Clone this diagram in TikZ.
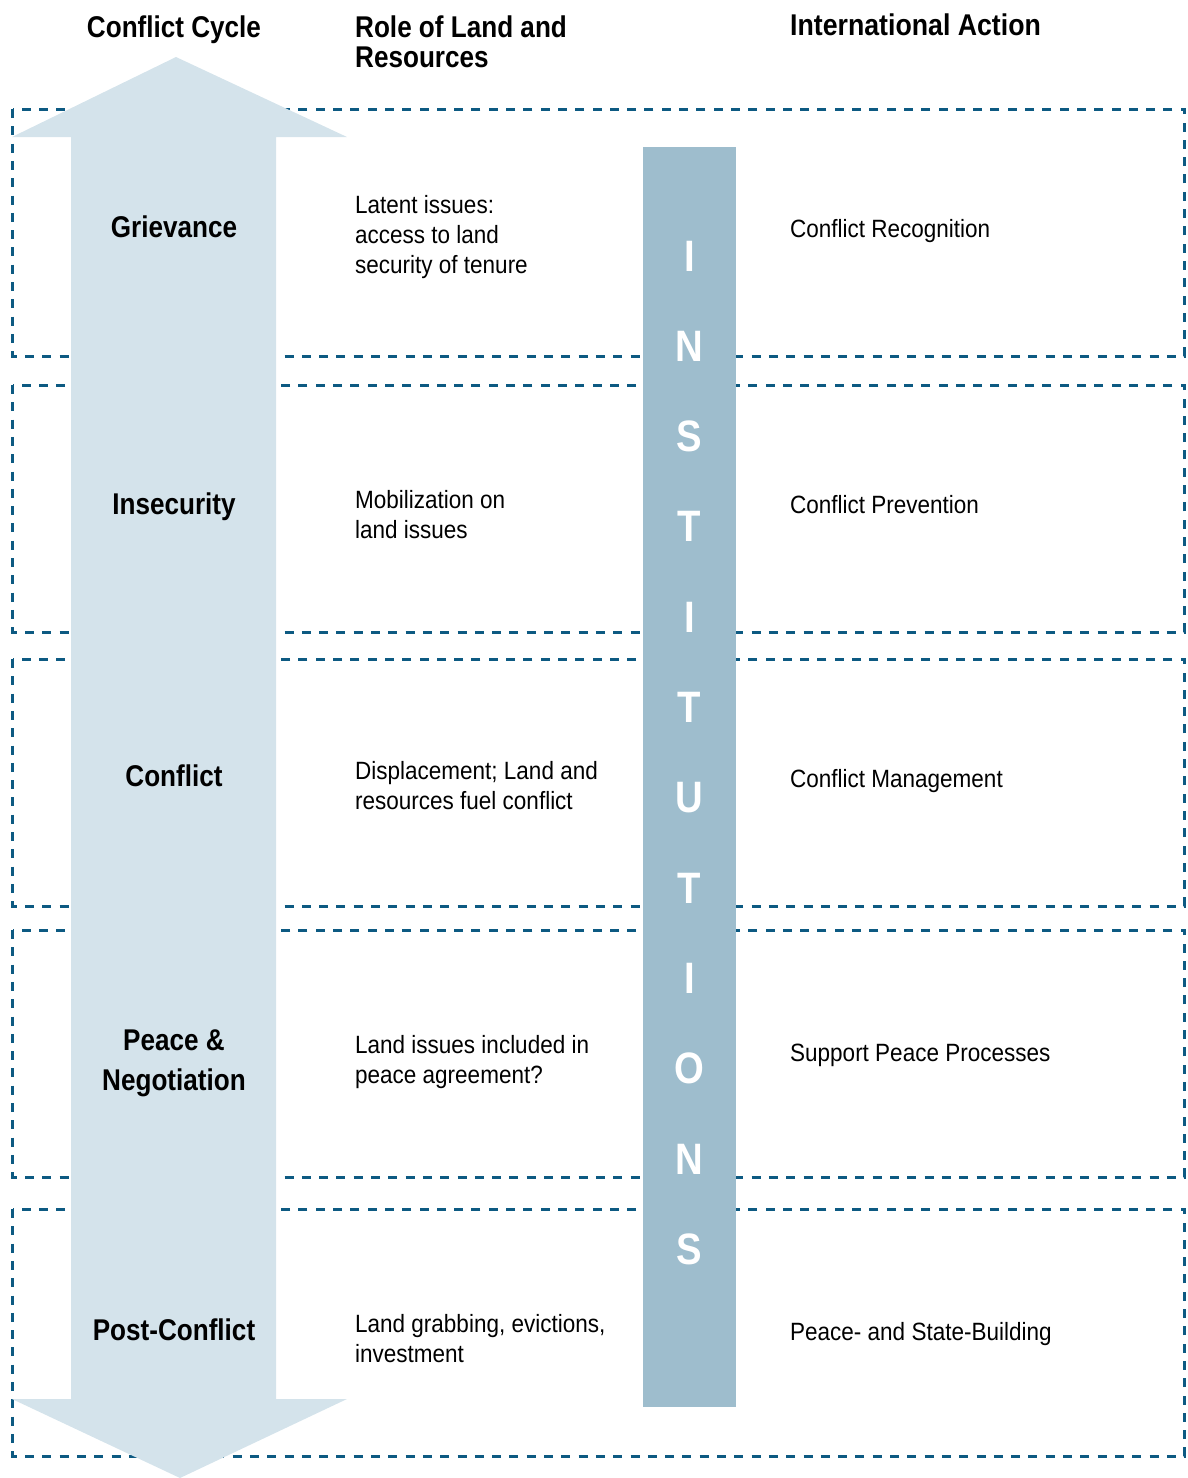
\documentclass[tikz,border=0pt]{standalone}
\usepackage{fontspec}
\setmainfont{Liberation Sans}[FakeStretch=0.87]
\newfontfamily\bodyfont{Liberation Sans}[FakeStretch=0.9]
\definecolor{dashblue}{HTML}{0D5A82}
\definecolor{arrowfill}{HTML}{D4E3EB}
\definecolor{barfill}{HTML}{9EBDCD}
\tikzset{
  rowbox/.style={draw=dashblue, line width=3pt, dash pattern=on 9pt off 8.3pt},
  hd/.style={font=\fontsize{30}{30}\selectfont\bfseries, inner sep=0pt},
  lbl/.style={font=\fontsize{30}{40}\selectfont\bfseries, inner sep=0pt, anchor=base, align=center},
  body/.style={font=\bodyfont\fontsize{25}{30}\selectfont, inner sep=0pt, anchor=base west, align=left},
  bar/.style={fill=barfill, inner sep=0pt, minimum width=93pt, minimum height=1260pt},
  letter/.style={font=\fontsize{44}{44}\selectfont\bfseries, text=white, inner sep=0pt, anchor=base}
}
\begin{document}
\begin{tikzpicture}[x=1pt, y=-1pt]
\useasboundingbox (0,0) rectangle (1187,1478);
% dashed rows
\foreach \t in {109,385,659,930,1209}
  \draw[rowbox] (12.5,\t) rectangle (1184.5,{\t+247});
% double arrow
\fill[arrowfill] (176,57) -- (347,137) -- (276,137) -- (276,1399) -- (347,1399)
  -- (180,1478) -- (12,1399) -- (71,1399) -- (71,137) -- (12,137) -- cycle;
% institutions bar
\node[bar] (inst) at (689.5,777) {};
\foreach \l [count=\i] in {I,N,S,T,I,T,U,T,I,O,N,S}
  \node[letter] (L\i) at (689.5,{271+(\i-1)*90.3}) {\l};
% headings
\node[hd, anchor=base] (hcycle) at (174,37) {Conflict Cycle};
\node[hd, anchor=base west, align=left] (hrole) at (355,67) {Role of Land and\\Resources};
\node[hd, anchor=base west] (hintl) at (790,35) {\fontspec{Liberation Sans}[FakeStretch=0.89]\bfseries International Action};
% column 1
\node[lbl] (c1) at (174,237) {Grievance};
\node[lbl] (c2) at (174,514) {Insecurity};
\node[lbl] (c3) at (174,786) {Conflict};
\node[lbl] (c4) at (174,1090) {Peace \&\\Negotiation};
\node[lbl] (c5) at (174,1340) {Post-Conflict};
% column 2
\node[body] (r1) at (355,273) {Latent issues:\\access to land\\security of tenure};
\node[body] (r2) at (355,538) {Mobilization on\\land issues};
\node[body] (r3) at (355,809) {Displacement; Land and\\resources fuel conflict};
\node[body] (r4) at (355,1083) {Land issues included in\\peace agreement?};
\node[body] (r5) at (355,1362) {Land grabbing, evictions,\\investment};
% column 3
\node[body] (a1) at (790,237) {Conflict Recognition};
\node[body] (a2) at (790,513) {Conflict Prevention};
\node[body] (a3) at (790,787) {Conflict Management};
\node[body] (a4) at (790,1061) {Support Peace Processes};
\node[body] (a5) at (790,1340) {Peace- and State-Building};
\end{tikzpicture}
\end{document}
